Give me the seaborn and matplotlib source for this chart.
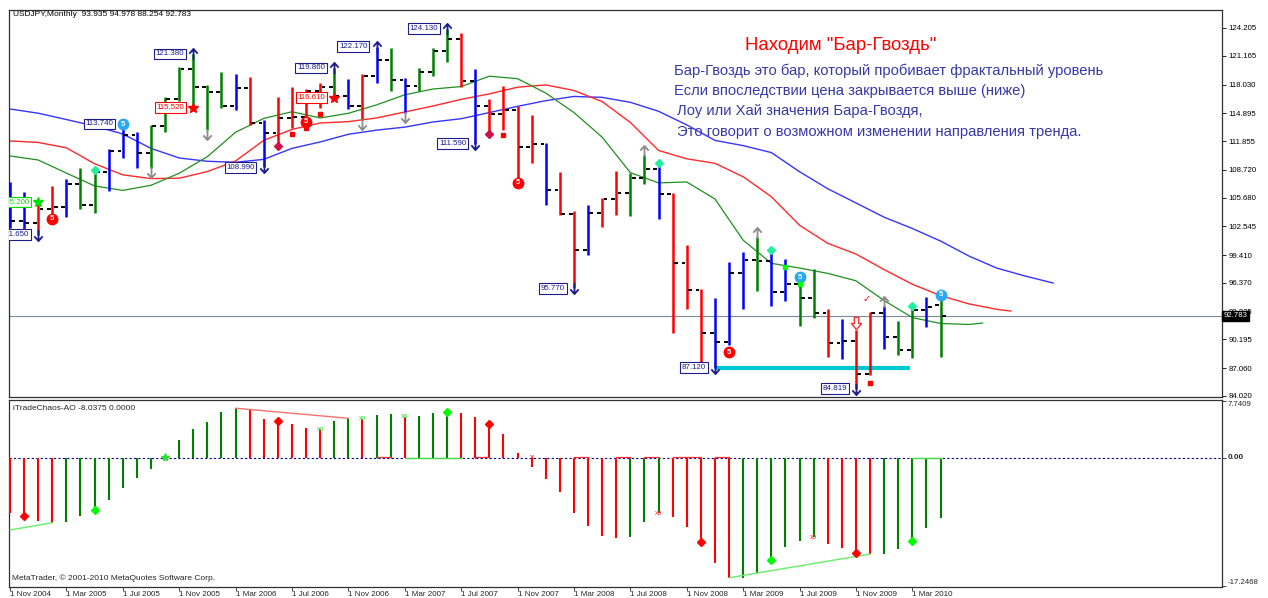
import matplotlib
matplotlib.use("Agg")
import matplotlib.pyplot as plt
from matplotlib.path import Path
import seaborn as sns

# ---------------- data ----------------
tick_idx = list(range(0, 65, 4))
tick_labels = ["1 Nov 2004", "1 Mar 2005", "1 Jul 2005", "1 Nov 2005", "1 Mar 2006",
               "1 Jul 2006", "1 Nov 2006", "1 Mar 2007", "1 Jul 2007", "1 Nov 2007",
               "1 Mar 2008", "1 Jul 2008", "1 Nov 2008", "1 Mar 2009", "1 Jul 2009",
               "1 Nov 2009", "1 Mar 2010"]

opens = [105.8, 103.1, 102.9, 104.4, 104.7, 107.2, 104.9, 108.5, 110.8, 112.5,
         110.6, 113.5, 116.4, 119.7, 117.8, 117.2, 115.7, 117.7, 113.8, 112.7,
         114.4, 114.5, 117.3, 117.8, 116.8, 115.7, 119.0, 120.7, 118.5, 117.9,
         119.4, 121.7, 123.0, 118.4, 115.7, 114.8, 115.2, 111.2, 111.5, 106.5,
         103.9, 100.0, 104.0, 105.5, 106.2, 107.8, 108.8, 106.1, 98.5, 95.6,
         90.9, 89.9, 97.5, 98.9, 98.8, 95.4, 96.25, 94.7, 93.1, 89.8,
         90.0, 86.4, 93.1, 90.5, 89.0, 93.4, 93.935]
highs = [107.4, 106.3, 105.2, 106.9, 107.7, 108.9, 108.9, 111.0, 113.74, 112.8,
         113.6, 116.7, 119.9, 121.38, 118.0, 119.4, 119.2, 118.85, 114.2, 116.7,
         117.8, 117.5, 118.2, 119.86, 118.6, 119.2, 122.17, 122.0, 118.7, 119.8,
         122.0, 124.13, 123.7, 119.7, 116.5, 117.9, 115.7, 114.7, 111.6, 108.5,
         104.2, 104.9, 105.6, 108.6, 108.4, 110.3, 109.1, 106.2, 100.5, 95.7,
         94.7, 98.6, 99.7, 101.4, 99.7, 98.98, 96.4, 97.9, 93.5, 92.4,
         91.2, 93.2, 93.8, 92.2, 93.7, 94.8, 94.978]
lows = [102.4, 102.0, 101.65, 103.3, 103.6, 104.4, 104.0, 106.4, 110.0, 108.9,
        108.9, 112.8, 116.2, 115.52, 113.1, 115.5, 115.3, 113.6, 108.99, 111.3,
        113.3, 113.5, 115.5, 116.61, 115.4, 114.2, 118.2, 117.3, 114.9, 117.3,
        119.0, 120.5, 117.8, 111.59, 112.7, 113.1, 107.4, 109.5, 104.9, 103.8,
        95.77, 99.4, 102.5, 103.8, 103.7, 107.2, 103.4, 90.9, 93.5, 87.14,
        87.12, 89.6, 93.5, 95.5, 93.9, 94.4, 91.7, 92.5, 88.3, 88.1,
        84.819, 86.3, 89.2, 88.5, 88.2, 91.6, 88.254]
closes = [103.1, 102.9, 104.4, 104.7, 107.2, 104.9, 108.5, 110.8, 112.5, 110.6,
          113.5, 116.4, 119.7, 117.8, 117.2, 115.7, 117.7, 113.8, 112.7, 114.4,
          114.5, 117.3, 117.8, 116.8, 115.7, 119.0, 120.7, 118.5, 117.9, 119.4,
          121.7, 123.0, 118.4, 115.7, 114.8, 115.2, 111.2, 111.5, 106.5, 103.9,
          100.0, 104.0, 105.5, 106.2, 107.8, 108.8, 106.1, 98.5, 95.6, 90.9,
          89.9, 97.5, 98.9, 98.8, 95.4, 96.25, 94.7, 93.1, 89.8, 90.0,
          86.4, 93.1, 90.5, 89.0, 93.4, 93.7, 92.783]
bar_codes = ("bbrrbggbbb" "ggggggbrbr" "rrrgbrbgbg" "ggrbrrrrbr" "rbrrggbrrr"
             "bbbgbbggrb" "rrbggbg")

jaw_idx = list(range(0, 75, 2))
jaw_vals = [115.36, 114.90, 114.21, 113.50, 112.63, 111.06, 110.01, 109.65, 109.54, 109.86,
            111.06, 111.76, 112.60, 113.05, 113.38, 113.94, 114.30, 114.97, 115.65, 116.27,
            116.73, 116.63, 116.09, 115.11, 113.62, 111.93, 111.36, 110.60, 108.51, 106.65,
            105.10, 103.54, 102.31, 100.94, 99.31, 97.98, 97.12, 96.35]
teeth_idx = list(range(0, 71, 2)) + [71]
teeth_vals = [111.87, 111.71, 111.12, 109.38, 108.17, 107.76, 107.80, 108.53, 109.68, 111.94,
              113.13, 113.83, 113.98, 114.38, 115.03, 115.69, 116.41, 117.01, 117.74, 117.99,
              117.38, 116.17, 113.89, 110.83, 109.92, 109.43, 107.96, 105.78, 102.66, 100.69,
              99.52, 97.82, 96.22, 94.98, 94.08, 93.48, 93.29]
lips_idx = list(range(0, 69, 2)) + [69]
lips_vals = [110.23, 109.79, 108.36, 106.96, 106.47, 107.03, 108.34, 110.16, 112.82, 114.33,
             115.06, 114.38, 114.89, 115.81, 116.91, 117.54, 117.81, 118.94, 118.67, 117.10,
             114.97, 112.28, 108.41, 107.29, 107.39, 105.53, 101.03, 98.51, 97.99, 97.41,
             96.60, 94.44, 92.58, 91.94, 91.83, 91.99]

ao_vals = [-7.45, -8.36, -8.49, -8.72, -8.67, -7.82, -7.24, -5.66, -4.00, -2.65,
           -1.48, 0.20, 2.43, 3.87, 4.89, 6.24, 6.70, 6.47, 5.26, 4.99,
           4.54, 4.08, 3.87, 4.99, 5.35, 5.26, 5.80, 5.89, 5.57, 5.60,
           6.02, 6.47, 6.02, 5.57, 4.54, 3.19, 0.63, -1.17, -2.83, -4.54,
           -7.37, -9.12, -10.47, -10.74, -10.61, -8.67, -7.45, -7.91, -9.26, -11.36,
           -14.18, -16.13, -16.10, -15.54, -13.75, -11.95, -11.19, -10.61, -11.63, -12.09,
           -12.80, -12.94, -12.87, -12.26, -11.15, -9.39, -8.0375]
ao_codes = ("rrrr" "ggggggggggggg" "rrrrrr" "gg" "r" "gg" "r" "ggg" "rrrrrrrrrrrr"
            "ggg" "rrrrr" "gggggg" "rrrr" "ggggg")

price_ticks = [124.205, 121.165, 118.030, 114.895, 111.855, 108.720, 105.680,
               102.545, 99.410, 96.370, 93.235, 90.195, 87.060, 84.020]
last_price = 92.783
ao_top, ao_bottom = 7.7409, -17.2468

# fractal labels: bar, price, text, colour
frac_labels = [(2, 101.65, "101.650", "#1c1c8a"), (2, 105.2, "105.200", "#00e000"),
               (8, 113.74, "113.740", "#1c1c8a"), (13, 121.38, "121.380", "#1c1c8a"),
               (13, 115.52, "115.520", "#ff0000"), (18, 108.99, "108.990", "#1c1c8a"),
               (23, 119.86, "119.860", "#1c1c8a"), (23, 116.61, "116.610", "#ff0000"),
               (26, 122.17, "122.170", "#1c1c8a"), (31, 124.13, "124.130", "#1c1c8a"),
               (33, 111.59, "111.590", "#1c1c8a"), (40, 95.77, "95.770", "#1c1c8a"),
               (50, 87.12, "87.120", "#1c1c8a"), (60, 84.819, "84.819", "#1c1c8a")]
navy_up = [(13, 121.38), (23, 119.86), (26, 122.17), (31, 124.13)]
navy_down = [(2, 101.65), (18, 108.99), (33, 111.59), (40, 95.77), (50, 87.12), (60, 84.819)]
gray_down = [(10, 108.9), (14, 113.1), (25, 114.2), (28, 114.9)]
gray_up = [(45, 110.3), (53, 101.4), (62, 93.8)]
red_circles = [(3, 103.35), (21, 113.94), (36, 107.28), (51, 88.82)]
cyan_circles = [(8, 113.72), (56, 97.01), (66, 95.05)]
teal_diamonds = [(6, 108.7), (46, 109.46), (54, 99.96), (64, 93.85)]
lime_squares = [(55, 98.1), (56, 96.25)]
red_squares = [(20, 112.63), (21, 113.29), (22, 114.81), (35, 112.52), (49, 87.3), (61, 85.44)]
crimson_diamonds = [(1, 101.93), (19, 111.32), (34, 112.63)]
red_stars = [(13, 115.52), (23, 116.61)]
green_stars = [(2, 105.2)]
hollow_down = [(60, 92.0)]

ao_red_diamonds = [(1, -7.78), (19, 4.99), (34, 4.54), (49, -11.36), (60, -12.80)]
ao_lime_diamonds = [(6, -7.0), (31, 6.2), (54, -13.75), (64, -11.15)]
ao_xo_green = [(22, 3.87), (25, 5.26), (28, 5.57)]
ao_xo_red = [(46, -7.45), (57, -10.74)]
ao_lines = [((0, 3), (-9.70, -8.72), "#66ee66"), ((16, 24), (6.70, 5.35), "#ff7070"),
            ((51, 61), (-16.13, -12.94), "#66ee66")]

title_text = 'Находим "Бар-Гвоздь"'
body_lines = ["Бар-Гвоздь это бар, который пробивает фрактальный уровень",
              "Если впоследствии цена закрывается выше (ниже)",
              "Лоу или Хай значения Бара-Гвоздя,",
              "Это говорит о возможном изменении направления тренда."]

# ---------------- figure ----------------
sns.set_style("white")
plt.rcParams["font.family"] = ["Liberation Sans", "DejaVu Sans"]

W, H = 1268, 598
fig = plt.figure(figsize=(W / 100, H / 100), dpi=100)
fig.patch.set_facecolor("white")


def fx(px):
    return px / W


def fy(py):
    return 1 - py / H


ax = fig.add_axes([fx(9), fy(397), (1222 - 9) / W, (397 - 10) / H])
ax2 = fig.add_axes([fx(9), fy(586.5), (1222 - 9) / W, (586.5 - 399.5) / H])
xl = (-0.07, 85.96)
for a in (ax, ax2):
    a.set_xlim(*xl)
    a.set_facecolor("white")
    for s in a.spines.values():
        s.set_color("#303030")
        s.set_linewidth(0.9)
ax.set_ylim(83.91, 126.17)
ax2.set_ylim(-17.31, 7.88)

cmap = {"g": "#008000", "r": "#ff0000", "b": "#0000ff"}
n = len(opens)
xs = list(range(n))

# marker shapes
M, L, C = Path.MOVETO, Path.LINETO, Path.CLOSEPOLY
down_arrow = Path([(0, 1), (0, -1), (-0.75, -0.15), (0, -1), (0.75, -0.15)], [M, L, M, L, L])
up_arrow = Path([(0, -1), (0, 1), (-0.75, 0.15), (0, 1), (0.75, 0.15)], [M, L, M, L, L])
block_down = Path([(-0.35, 1), (0.35, 1), (0.35, 0), (0.8, 0), (0, -1), (-0.8, 0), (-0.35, 0), (-0.35, 1)],
                  [M, L, L, L, L, L, L, C])

# alligator lines (seaborn)
sns.lineplot(x=jaw_idx, y=jaw_vals, ax=ax, color="#3535ff", lw=1.0, zorder=2)
sns.lineplot(x=teeth_idx, y=teeth_vals, ax=ax, color="#ff2a2a", lw=1.0, zorder=2)
sns.lineplot(x=lips_idx, y=lips_vals, ax=ax, color="#1f8f1f", lw=0.9, zorder=2)

ax.axhline(last_price, color="#7d8a99", lw=0.8, zorder=1)
ax.hlines(87.12, 50, 63.8, color="#00c8d0", lw=3.0, zorder=2.5)

ax.vlines(xs, lows, highs, colors=[cmap[c] for c in bar_codes], lw=1.8, zorder=3)
ax.hlines(opens, [i - 0.37 for i in xs], [i - 0.1 for i in xs], colors="black", lw=1.4, zorder=4)
ax.hlines(closes, [i + 0.1 for i in xs], [i + 0.37 for i in xs], colors="black", lw=1.4, zorder=4)

# markers
for i, p in red_circles:
    ax.plot(i, p, "o", ms=7.5, color="#ff0000", zorder=6)
    ax.text(i, p, "5", color="white", fontsize=5.5, weight="bold", ha="center", va="center", zorder=7)
for i, p in cyan_circles:
    ax.plot(i, p, "o", ms=7.5, color="#2aa8f0", zorder=6)
    ax.text(i, p, "5", color="white", fontsize=5.5, weight="bold", ha="center", va="center", zorder=7)
for i, p in teal_diamonds:
    ax.plot(i, p, "D", ms=3.8, color="#20f0a0", zorder=6)
for i, p in lime_squares:
    ax.plot(i, p, "s", ms=3.5, color="#00ff00", zorder=6)
for i, p in red_squares:
    ax.plot(i, p, "s", ms=3.2, color="#ff0000", zorder=6)
for i, p in crimson_diamonds:
    ax.plot(i, p, "D", ms=3.8, color="#d0104a", zorder=6)
for i, p in red_stars:
    ax.plot(i, p, "*", ms=7, color="#ff0000", zorder=6)
for i, p in green_stars:
    ax.plot(i, p, "*", ms=7, color="#00e000", zorder=6, clip_on=True)
for i, p in hollow_down:
    ax.plot(i, p, marker=block_down, ms=9, mec="#ff3030", mfc="white", mew=1.0, ls="none", zorder=6)

for i, p in navy_up:
    ax.plot(i, p, marker=up_arrow, ms=8, mec="#1c1c8a", mfc="none", mew=1.3, ls="none", zorder=6)
for i, p in navy_down:
    ax.plot(i, p, marker=down_arrow, ms=8, mec="#1c1c8a", mfc="none", mew=1.3, ls="none", zorder=6)
for i, p in gray_down:
    ax.plot(i, p - 0.45, marker=down_arrow, ms=8, mec="#8c8c8c", mfc="none", mew=1.3, ls="none", zorder=6)
for i, p in gray_up:
    ax.plot(i, p + 0.45, marker=up_arrow, ms=8, mec="#8c8c8c", mfc="none", mew=1.3, ls="none", zorder=6)
ax.text(60.75, 94.6, "✓", color="#ff0000", fontsize=7, ha="center", va="center", zorder=6)

for i, p, t, c in frac_labels:
    ax.text(i - 0.65, p, t, color=c, fontsize=5.7, ha="right", va="center", zorder=8,
            clip_on=True,
            bbox=dict(boxstyle="square,pad=0.22", fc="white", ec=c, lw=0.8))

# price axis
ax.yaxis.tick_right()
ax.set_yticks(price_ticks)
ax.set_yticklabels([f"{v:.3f}" for v in price_ticks])
ax.tick_params(axis="y", right=True, left=False, direction="out", length=3, width=0.6,
               labelsize=5.6, pad=1.5, colors="black")
ax.set_xticks([])
ax.set_ylabel("")
ax.set_xlabel("")
ax.text(1.0012, last_price, f"{last_price:.3f}", transform=ax.get_yaxis_transform(),
        color="white", fontsize=5.6, ha="left", va="center", zorder=9,
        bbox=dict(boxstyle="square,pad=0.2", fc="black", ec="black"))

# ---------------- AO panel ----------------
ax2.vlines(xs, 0, ao_vals, colors=[cmap[c] for c in ao_codes], lw=1.5, zorder=3)
ax2.axhline(0, color="#000080", lw=0.8, ls=(0, (2, 2)), zorder=2)
for (x0, x1), (y0, y1), c in ao_lines:
    ax2.plot([x0, x1], [y0, y1], color=c, lw=1.0, zorder=4)
for x0, x1 in [(28, 32), (64, 66)]:
    ax2.plot([x0, x1], [0, 0], color="#44dd44", lw=1.0, zorder=4)
for x0, x1 in [(26, 27), (33, 34), (40, 41), (43, 44), (45, 46), (47, 49), (50, 51)]:
    ax2.plot([x0, x0, x1, x1], [0, 0.2, 0.2, 0], color="#ff3030", lw=0.9, zorder=4)
for i, v in ao_red_diamonds:
    ax2.plot(i, v, "D", ms=4, color="#ff0000", zorder=6)
for i, v in ao_lime_diamonds:
    ax2.plot(i, v, "D", ms=4, color="#00ff00", zorder=6)
for i, v in ao_xo_green:
    ax2.text(i, v, "xo", color="#33dd33", fontsize=5, ha="center", va="center", zorder=6)
for i, v in ao_xo_red:
    ax2.text(i, v, "xo", color="#ff3030", fontsize=5, ha="center", va="center", zorder=6)
ax2.plot(11, 0.2, "*", ms=6, color="#33dd33", zorder=6)
ax2.text(37, 0, "x", color="#ff0000", fontsize=6, ha="center", va="center", zorder=6)

ax2.yaxis.tick_right()
ax2.set_yticks([ao_top, 0, ao_bottom])
ax2.set_yticklabels([])
ax2.tick_params(axis="y", right=True, left=False, direction="out", length=3, width=0.6)
ytr = ax2.get_yaxis_transform()
ax2.text(1.0045, ao_top, f"{ao_top:.4f}", transform=ytr, fontsize=5.6, ha="left", va="top")
ax2.text(1.0045, 0, "0.00", transform=ytr, fontsize=5.8, ha="left", va="center", weight="bold")
ax2.text(1.0045, ao_bottom, f"{ao_bottom:.4f}", transform=ytr, fontsize=5.6, ha="left", va="bottom")

ax2.set_xticks(tick_idx)
ax2.set_xticklabels(tick_labels, fontsize=5.8, ha="left")
ax2.tick_params(axis="x", bottom=True, direction="out", length=3, width=0.6, pad=0.5)
ax2.set_xlabel("")
ax2.set_ylabel("")

# ---------------- texts ----------------
fig.text(fx(13), fy(15), "USDJPY,Monthly  93.935 94.978 88.254 92.783", fontsize=6,
         ha="left", va="center", color="black")
fig.text(fx(13), fy(408), "iTradeChaos-AO -8.0375 0.0000", fontsize=6, ha="left", va="center")
fig.text(fx(12), fy(578), "MetaTrader, © 2001-2010 MetaQuotes Software Corp.", fontsize=6,
         ha="left", va="center")
fig.text(fx(841), fy(45), title_text, fontsize=13.4, color="#ff0000", ha="center", va="center")
for (px, py), line in zip([(674, 71), (674, 91), (677, 111), (677, 132)], body_lines):
    fig.text(fx(px), fy(py), line, fontsize=10.6, color="#3838a8", ha="left", va="center")

fig.savefig("out.png", dpi=100, facecolor="white")
